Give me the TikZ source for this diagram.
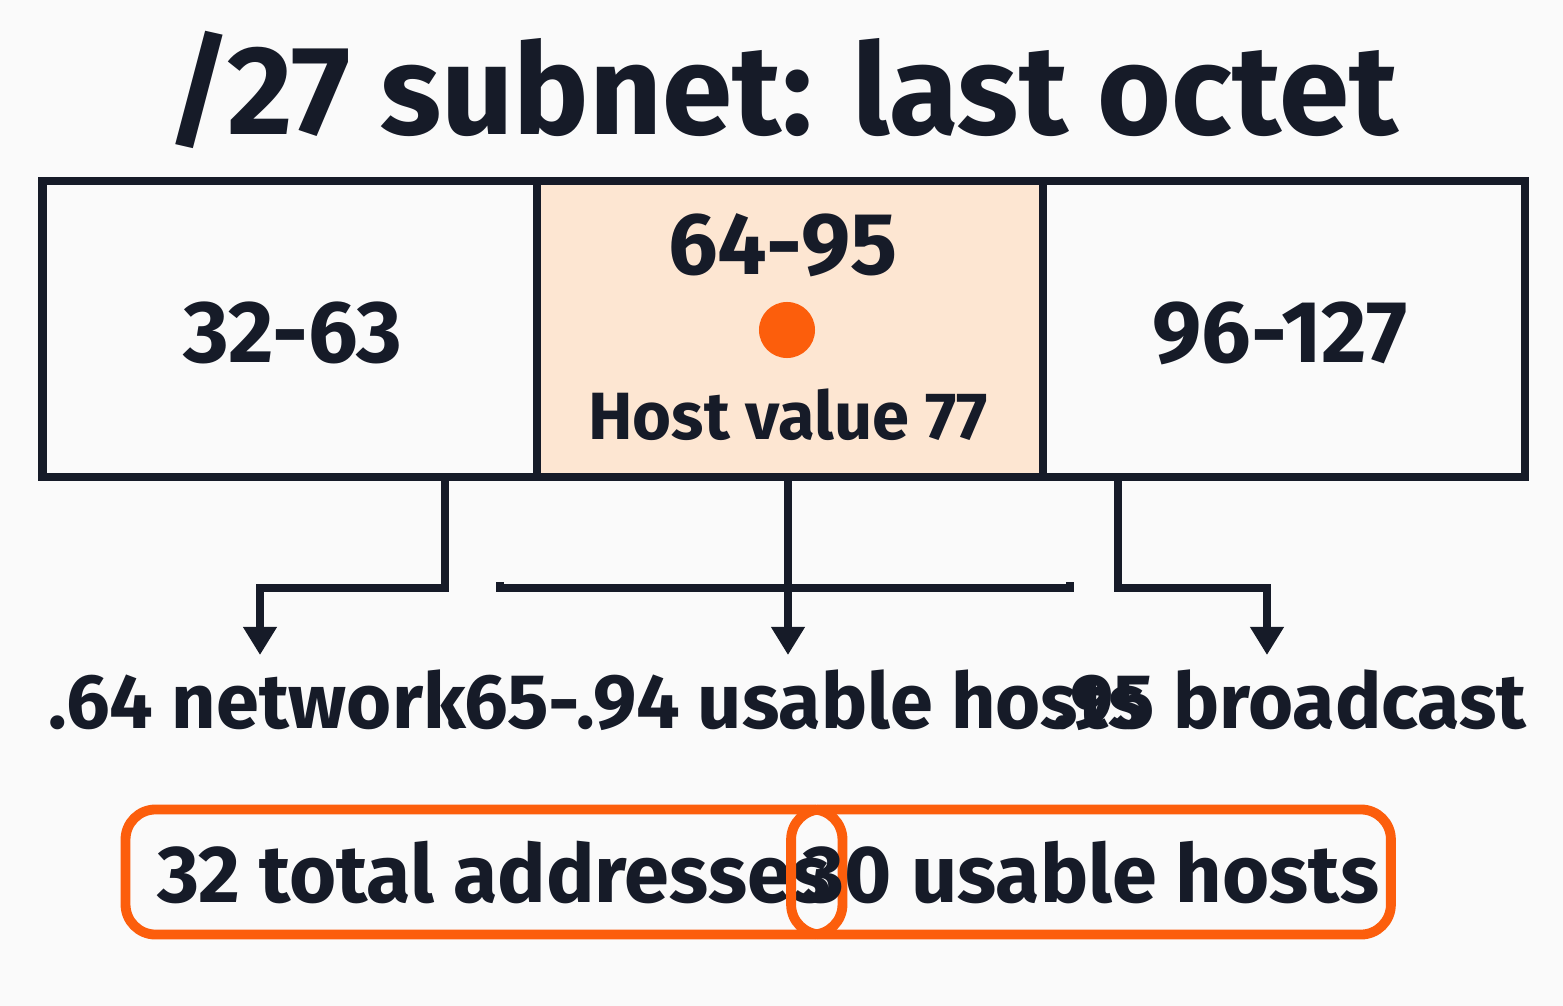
\documentclass[tikz,border=0pt]{standalone}
\usepackage{fontspec}
\setmainfont{Fira Sans}
\usetikzlibrary{positioning,calc,arrows.meta}
\definecolor{bgwhite}{RGB}{250,250,250}
\definecolor{inkdark}{RGB}{22,27,40}
\definecolor{peach}{RGB}{253,230,210}
\definecolor{hostorange}{RGB}{252,94,12}
\begin{document}
\begin{tikzpicture}[
    x=0.01cm, y=-0.01cm,
    cell/.style={draw=inkdark, line width=2.4pt, minimum height=2.96cm, inner sep=0pt},
    span/.style={font=\fontsize{25}{28}\selectfont\bfseries, text=inkdark},
    part/.style={font=\fontsize{22}{26}\selectfont\bfseries, text=inkdark},
    count/.style={draw=hostorange, line width=2.8pt, rounded corners=0.3cm, minimum height=1.25cm,
        font=\fontsize{23}{27}\selectfont\bfseries, text=inkdark},
    link/.style={draw=inkdark, line width=2.2pt},
    arrow/.style={link, -{Triangle[length=0.28cm, width=0.32cm]}}
]
    \fill[bgwhite] (0,0) rectangle (1563,1006);
    \node[font=\fontsize{36}{40}\selectfont\bfseries, text=inkdark] (title) at (782,90) {/27 subnet: last octet};

    % octet cells
    \node[cell, minimum width=4.95cm] (low) at (290,329) {};
    \node[cell, minimum width=5.06cm, fill=peach] (mid) at (790,329) {};
    \node[cell, minimum width=4.82cm] (high) at (1284,329) {};
    \node[span] (lowtxt) at (293,333) {32-63};
    \node[span] (midtxt) at (783,245) {64-95};
    \node[span] (hightxt) at (1280,333) {96-127};
    \fill[hostorange] (787,330) circle (0.28cm);
    \node[font=\fontsize{19}{22}\selectfont\bfseries, text=inkdark] (host) at (788,415) {Host value 77};

    % meanings
    \node[part] (net) at (257,700) {.64 network};
    \node[part] (usable) at (796,700) {.65-.94 usable hosts};
    \node[part] (bcast) at (1290,700) {.95 broadcast};

    \coordinate (a1) at (445,477);
    \coordinate (b1) at (1118,477);
    \draw[arrow] (a1) |- (260,588) -- (260,655);
    \draw[arrow] (788,477) -- (788,655);
    \draw[arrow] (b1) |- (1267,588) -- (1267,655);
    \draw[link] (500,582) -- (500,588) -- (1070,588) -- (1070,582);

    % totals
    \node[count, minimum width=5.78cm] (total) at (484,872) {\hspace*{0.2cm}32 total addresses};
    \node[count, minimum width=5.31cm] (hosts) at (1091,872) {30 usable hosts};
\end{tikzpicture}
\end{document}
